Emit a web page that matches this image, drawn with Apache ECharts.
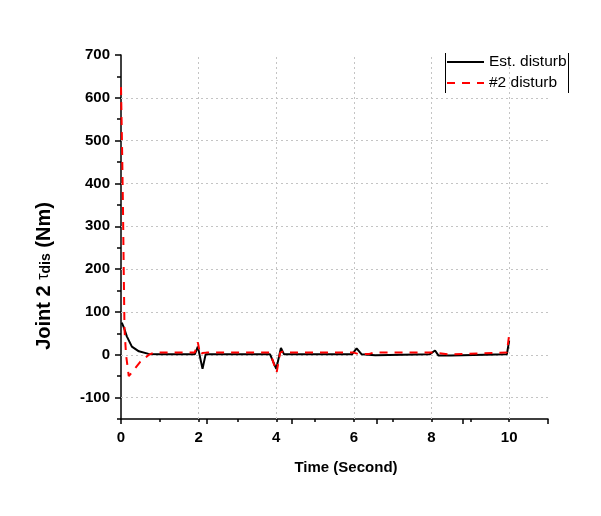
<!DOCTYPE html>
<html>
<head>
<meta charset="utf-8">
<script src="https://cdn.jsdelivr.net/npm/echarts@6/dist/echarts.min.js"></script>
<style>
  html, body { margin: 0; padding: 0; background: #ffffff; }
  #chart { width: 601px; height: 516px; }
</style>
</head>
<body>
<div id="chart"></div>
<script>
// Joint 2: estimated disturbance torque against the applied disturbance (Nm)
const seriesNames = ['Est. disturb', '#2 disturb'];

const estTime  = [0.02, 0.08, 0.15, 0.28, 0.46, 0.71, 1.0, 1.9, 1.98, 2.1, 2.18, 3.84, 4.0, 4.12, 4.2,
                  5.95, 6.07, 6.2, 6.25, 6.55, 6.6, 7.95, 8.09, 8.18, 8.5, 8.55, 9.94, 10.0];
const estValue = [75, 62, 43, 19, 8, 2, 1, 1, 19, -33, 1, 1, -33, 16, 1,
                  1, 15, 1, -1, -1, 1, 1, 10, -2, -2, 1, 1, 33];

const refTime  = [0, 0.03, 0.05, 0.07, 0.09, 0.13, 0.2, 0.5, 0.72, 0.85, 1.9, 1.98, 2.04, 2.1, 2.2,
                  3.84, 4.01, 4.1, 4.18, 4.3, 6.0, 6.1, 6.4, 6.5, 8.1, 8.15, 8.45, 8.5, 9.94, 10.0];
const refValue = [625, 470, 350, 200, 60, 0, -50, -16, 0, 5, 5, 29, 0, 4, 5,
                  5, -41, 5, 8, 5, 5, 2, 2, 5, 5, 1, 1, 5, 5, 47];

const xGridValues = [2, 4, 6, 8, 10];
const yGridValues = [-100, 0, 100, 200, 300, 400, 500, 600];
const yMajorTicks = [-100, 0, 100, 200, 300, 400, 500, 600, 700];

const FONT = "'Liberation Sans', Arial, sans-serif";
const AXIS_LINE = { color: '#000', width: 1.5 };

const chart = echarts.init(document.getElementById('chart'), null, { renderer: 'canvas' });

const toPairs = (xs, ys) => xs.map((x, i) => [x, ys[i]]);

chart.setOption({
  backgroundColor: '#ffffff',
  animation: false,
  grid: { left: 121, right: 53, top: 55, bottom: 97, containLabel: false },
  legend: {
    data: seriesNames,
    orient: 'vertical',
    left: 446,
    top: 54,
    padding: 0,
    itemWidth: 37,
    itemHeight: 12,
    itemGap: 5,
    itemStyle: { opacity: 0 },
    textStyle: { fontFamily: FONT, fontSize: 15.5, color: '#000', lineHeight: 16 }
  },
  graphic: [
    { type: 'line', shape: { x1: 445.5, y1: 53, x2: 445.5, y2: 93 }, style: { stroke: '#000', lineWidth: 1 } },
    { type: 'line', shape: { x1: 568.5, y1: 53, x2: 568.5, y2: 93 }, style: { stroke: '#000', lineWidth: 1 } },
    {
      type: 'text',
      x: 46,
      y: 276,
      rotation: Math.PI / 2,
      style: {
        text: '{a|Joint 2 }{t|τ}{s|dis}{a| (Nm)}',
        align: 'center',
        verticalAlign: 'middle',
        fill: '#000',
        rich: {
          a: { fontFamily: FONT, fontSize: 20, fontWeight: 'bold', padding: [0, 0, 4, 0] },
          t: { fontFamily: FONT, fontSize: 16, padding: [0, 0, 4, 0] },
          s: { fontFamily: FONT, fontSize: 14, fontWeight: 'bold' }
        }
      }
    }
  ],
  xAxis: [
    {
      type: 'value', min: 0, max: 11, interval: 1,
      name: 'Time (Second)', nameLocation: 'middle', nameGap: 41,
      nameTextStyle: { fontFamily: FONT, fontSize: 15, fontWeight: 'bold', color: '#000', padding: [0, 0, 0, 23] },
      axisLine: { onZero: false, lineStyle: AXIS_LINE },
      axisTick: { length: 3, lineStyle: AXIS_LINE },
      axisLabel: {
        margin: 11, fontFamily: FONT, fontSize: 15, fontWeight: 'bold', color: '#000',
        formatter: v => (v % 2 === 0 && v <= 10) ? String(v) : ''
      },
      splitLine: { show: false }
    },
    {
      type: 'value', min: 0, max: 10, interval: 2, position: 'bottom',
      axisLine: { show: false, onZero: false },
      axisTick: { length: 5, lineStyle: AXIS_LINE },
      axisLabel: { show: false },
      splitLine: { show: false }
    }
  ],
  yAxis: [
    {
      type: 'value', min: -150, max: 700, interval: 50,
      axisLine: { show: true, onZero: false, lineStyle: AXIS_LINE },
      axisTick: { show: true, length: 4, lineStyle: AXIS_LINE },
      axisLabel: {
        margin: 11, fontFamily: FONT, fontSize: 15, fontWeight: 'bold', color: '#000',
        formatter: v => (v % 100 === 0) ? String(v) : ''
      },
      splitLine: { show: false }
    },
    {
      type: 'value', min: -150, max: 700, position: 'left',
      axisLine: { show: false, onZero: false },
      axisTick: { show: true, length: 6, lineStyle: AXIS_LINE, customValues: yMajorTicks },
      axisLabel: { show: false },
      splitLine: { show: false }
    }
  ],
  series: [
    {
      name: seriesNames[0],
      type: 'line',
      data: toPairs(estTime, estValue),
      symbol: 'none',
      z: 3,
      lineStyle: { color: '#000000', width: 2 },
      itemStyle: { color: '#000000' },
      markLine: {
        silent: true,
        symbol: 'none',
        symbolSize: 0,
        z: 1,
        label: { show: false },
        lineStyle: { color: '#c4c4c4', type: [2, 3], width: 1 },
        data: xGridValues.map(v => ({ xAxis: v })).concat(yGridValues.map(v => ({ yAxis: v })))
      }
    },
    {
      name: seriesNames[1],
      type: 'line',
      data: toPairs(refTime, refValue),
      symbol: 'none',
      z: 4,
      lineStyle: { color: '#ff0000', width: 2, type: [8, 7] },
      itemStyle: { color: '#ff0000' }
    }
  ]
});
</script>
</body>
</html>
